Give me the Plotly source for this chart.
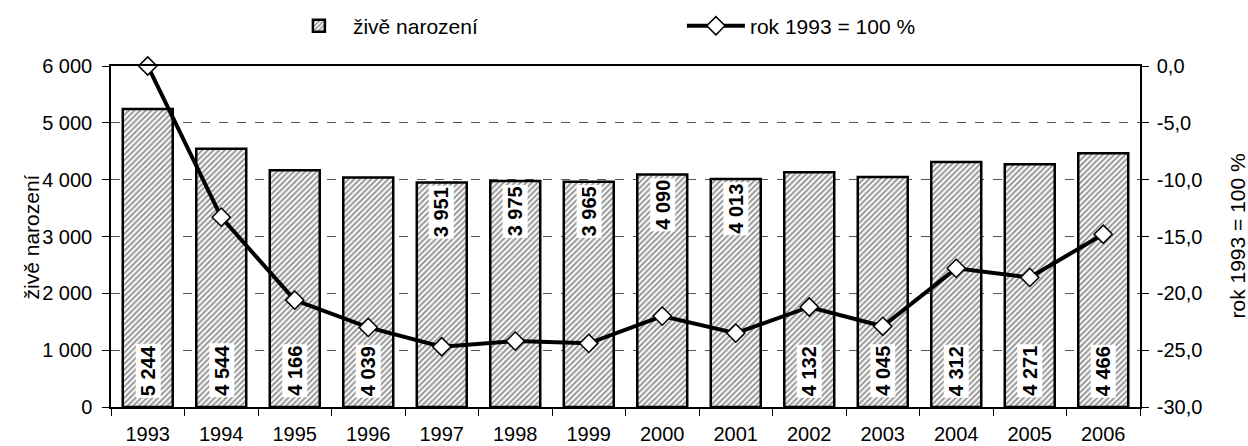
import plotly.graph_objects as go

years = ["1993", "1994", "1995", "1996", "1997", "1998", "1999",
         "2000", "2001", "2002", "2003", "2004", "2005", "2006"]
births = [5244, 4544, 4166, 4039, 3951, 3975, 3965,
          4090, 4013, 4132, 4045, 4312, 4271, 4466]
pct_change = [0.0, -13.3, -20.6, -23.0, -24.7, -24.2, -24.4,
              -22.0, -23.5, -21.2, -22.9, -17.8, -18.6, -14.8]
y2_ticks = [-30, -25, -20, -15, -10, -5, 0]
y2_ticktext = ["-30,0", "-25,0", "-20,0", "-15,0", "-10,0", "-5,0", "0,0"]
top_label_years = ["1997", "1998", "1999", "2000", "2001"]

FONT = "Liberation Sans, Arial, sans-serif"

fig = go.Figure()
fig.add_trace(go.Bar(
    x=years, y=births, name="živě narození",
    marker=dict(color="white",
                line=dict(color="black", width=2.5),
                pattern=dict(shape="/", fgcolor="#2e2e2e", bgcolor="white",
                             size=4, solidity=0.5)),
    yaxis="y",
))
fig.add_trace(go.Scatter(
    x=years, y=pct_change, name="rok 1993 = 100 %",
    mode="lines+markers",
    line=dict(color="black", width=4),
    marker=dict(symbol="diamond", size=14, color="white",
                line=dict(color="black", width=1.5)),
    yaxis="y2", cliponaxis=False,
))

annotations = []
for i, (yr, v) in enumerate(zip(years, births)):
    txt = f"{v:,}".replace(",", " ")
    common = dict(xref="x", yref="y", text=txt, textangle=-90, showarrow=False,
                  bgcolor="white", borderpad=1,
                  font=dict(family=FONT, size=20, color="black", weight="bold"))
    if yr in top_label_years:
        annotations.append(dict(x=i, y=v, yanchor="top", yshift=-3, **common))
    else:
        annotations.append(dict(x=i, y=0, yanchor="bottom", yshift=9, **common))

# axis titles
annotations.append(dict(xref="paper", yref="paper", x=-0.0768, y=0.5,
                        text="živě narození", textangle=-90, showarrow=False,
                        xanchor="center", yanchor="middle",
                        font=dict(family=FONT, size=21, color="black")))
annotations.append(dict(xref="paper", yref="paper", x=1.0943, y=0.5,
                        text="rok 1993 = 100 %", textangle=-90, showarrow=False,
                        xanchor="center", yanchor="middle",
                        font=dict(family=FONT, size=21, color="black")))

fig.update_layout(
    width=1248, height=446,
    margin=dict(l=111, r=108, t=66, b=39, autoexpand=False),
    paper_bgcolor="white", plot_bgcolor="white",
    font=dict(family=FONT, size=20, color="black"),
    separators=", ",
    bargap=0.32,
    showlegend=True,
    legend=dict(orientation="h", x=0.169, y=1.117, xanchor="left",
                yanchor="middle", font=dict(size=21),
                entrywidth=324, entrywidthmode="pixels", itemwidth=58,
                bgcolor="rgba(0,0,0,0)"),
    xaxis=dict(type="category", range=[-0.5, len(years) - 0.5],
               showline=True, linecolor="black", linewidth=1.5,
               mirror=True, ticks="outside", ticklen=7, tickcolor="black",
               tickson="boundaries", tickfont=dict(size=20), tickangle=0,
               ticklabelstandoff=8, automargin=False),
    yaxis=dict(range=[0, 6000], tickvals=[0, 1000, 2000, 3000, 4000, 5000, 6000],
               tickformat=",", showline=True, linecolor="black", linewidth=1.5,
               ticks="outside", ticklen=7, tickcolor="black",
               showgrid=True, gridcolor="#555555", griddash="dash", gridwidth=1,
               zeroline=False, tickfont=dict(size=20), automargin=False,
               ticklabelstandoff=6),
    yaxis2=dict(range=[-30, 0], overlaying="y", side="right",
                tickvals=y2_ticks, ticktext=y2_ticktext,
                showline=True, linecolor="black", linewidth=1.5,
                ticks="outside", ticklen=7, tickcolor="black",
                showgrid=False, zeroline=False, tickfont=dict(size=20),
                automargin=False, ticklabelstandoff=4),
    annotations=annotations,
)

fig.write_html("out.html", config={"displayModeBar": False},
               post_script="document.body.style.margin='0';")
